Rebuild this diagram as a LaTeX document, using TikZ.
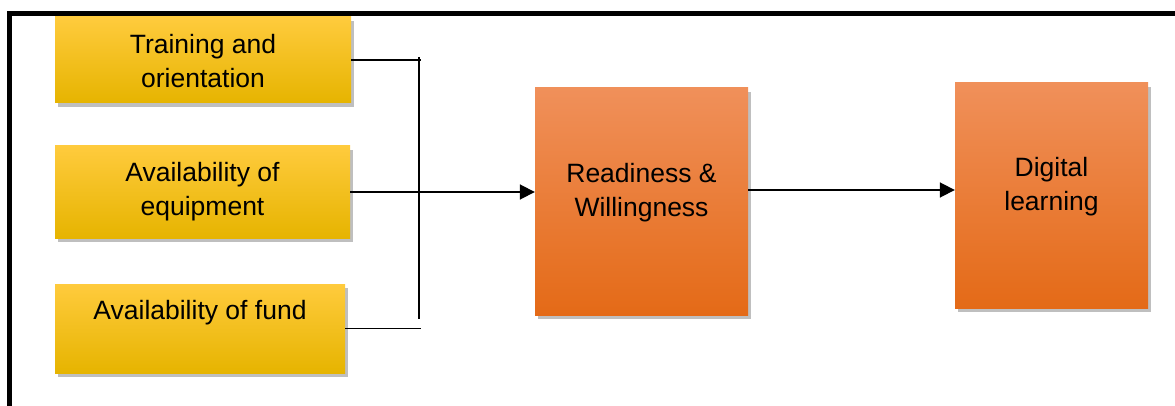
\documentclass[tikz,border=0pt]{standalone}
\usepackage{fontspec}
\setmainfont{Liberation Sans}
\usetikzlibrary{arrows.meta,shadows}
\definecolor{ytop}{HTML}{FFCB3D}
\definecolor{ymid}{HTML}{FFC000}
\definecolor{ybot}{HTML}{E6B400}
\definecolor{otop}{HTML}{F0905A}
\definecolor{omid}{HTML}{F47F2A}
\definecolor{obot}{HTML}{E46A17}
\begin{document}
\begin{tikzpicture}[x=1pt,y=-1pt,
    box/.style={inner sep=0pt,
      drop shadow={shadow xshift=3pt,shadow yshift=-4pt,opacity=.25,fill=black}},
    ybox/.style={box,top color=ytop,middle color=ymid,bottom color=ybot},
    obox/.style={box,top color=otop,middle color=omid,bottom color=obot},
    txt/.style={font=\fontsize{26.5}{34}\selectfont,align=center},
    wire/.style={line width=1.3pt},
    arr/.style={line width=1.8pt,-{Triangle[length=15pt,width=15pt]}}]

  \useasboundingbox (0,0) rectangle (1175,406);
  \fill[white] (0,0) rectangle (1175,406);
  % frame, cut off on the right and at the bottom
  \draw[line width=5pt,line join=miter] (9,406) -- (9,13.5) -- (1175,13.5);

  % the three factors
  \node[ybox,minimum width=296pt,minimum height=86pt] (train) at (203,60) {};
  \node[ybox,minimum width=295pt,minimum height=92pt] (equip) at (202.5,192) {};
  \node[ybox,minimum width=290pt,minimum height=89pt] (fund) at (200,328.5) {};
  \node[txt] (traintxt) at ([yshift=-1pt]train.center) {Training and\\orientation};
  \node[txt] (equiptxt) at ([yshift=0.5pt]equip.center) {Availability of\\equipment};
  \node[txt] (fundtxt) at ([yshift=16pt]fund.center) {Availability of fund};

  % readiness and outcome
  \node[obox,minimum width=213pt,minimum height=227pt] (ready) at (641.5,201.5) {};
  \node[obox,minimum width=193pt,minimum height=225pt] (digital) at (1051.5,195.5) {};
  \node[txt] (readytxt) at ([yshift=9pt]ready.center) {Readiness \&\\Willingness};
  \node[txt] (digitaltxt) at ([yshift=9pt]digital.center) {Digital\\learning};

  % bus joining the factors
  \coordinate (bustop) at (419,57);
  \coordinate (busbot) at (419,319);
  \coordinate (tap) at (391,192);
  \draw[wire] (bustop) -- (busbot);
  \draw[wire] (train.east) -- ++(70,0);
  \draw[wire] (equip.east) -- ++(70,0);
  \draw[wire] (fund.east) -- ++(76,0);
  \draw[arr] (tap) -- (tap -| ready.west);
  \draw[arr] ([yshift=11.5pt]ready.east) -- ([yshift=11.5pt]ready.east -| digital.west);

\end{tikzpicture}
\end{document}
